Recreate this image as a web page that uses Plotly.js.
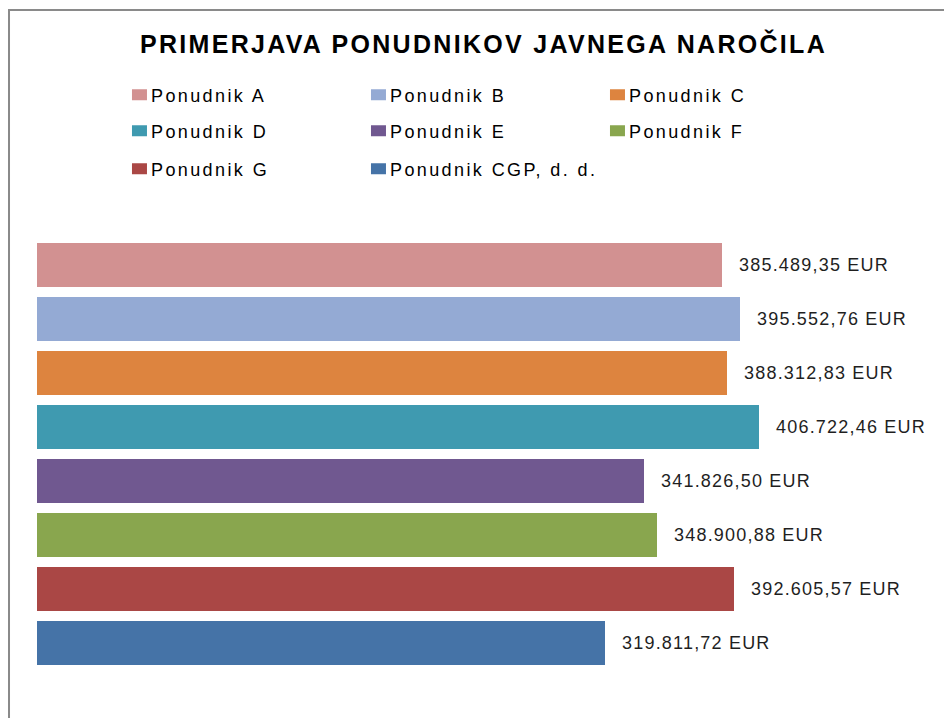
<!DOCTYPE html>
<html>
<head>
<meta charset="utf-8">
<script src="https://cdn.plot.ly/plotly-3.0.1.min.js"></script>
<style>
  html, body { margin: 0; padding: 0; background: #fff; }
  #chart { width: 944px; height: 718px; }
  text.legendtext, text.legend2text, text.legend3text { letter-spacing: 2.4px; }
  .annotation-text { letter-spacing: 1.2px; }
  .gtitle { letter-spacing: 2.3px; }
</style>
</head>
<body>
<div id="chart"></div>
<script>
// ---- data ----
const bidders = ["Ponudnik A", "Ponudnik B", "Ponudnik C", "Ponudnik D",
                 "Ponudnik E", "Ponudnik F", "Ponudnik G", "Ponudnik CGP, d. d."];
const offers = [385489.35, 395552.76, 388312.83, 406722.46,
                341826.50, 348900.88, 392605.57, 319811.72];
const valueLabels = ["385.489,35 EUR", "395.552,76 EUR", "388.312,83 EUR", "406.722,46 EUR",
                     "341.826,50 EUR", "348.900,88 EUR", "392.605,57 EUR", "319.811,72 EUR"];
const colors = ["#D29191", "#94AAD4", "#DD843F", "#3F9AB0",
                "#705890", "#89A64E", "#AA4745", "#4573A7"];
const legendOf = ["legend", "legend", "legend", "legend2",
                  "legend2", "legend2", "legend3", "legend3"];

// ---- traces: one bar per bidder ----
const traces = bidders.map((name, i) => {
  const t = {
    type: "bar",
    orientation: "h",
    name: name,
    x: [offers[i]],
    y: [name],
    marker: { color: colors[i], line: { width: 0 } },
    legend: legendOf[i],
    hoverinfo: "name+x"
  };
  if (i === bidders.length - 1) t.legendwidth = 280; // room for the long last entry
  return t;
});

const annotations = bidders.map((name, i) => ({
  x: offers[i],
  y: name,
  xref: "x",
  yref: "y",
  text: valueLabels[i],
  showarrow: false,
  xanchor: "left",
  yanchor: "middle",
  xshift: 15,
  font: { family: "Liberation Sans, Arial, sans-serif", size: 18, color: "#1f1f1f" }
}));

function mkLegend(y) {
  return {
    orientation: "h",
    x: 0.0822, xanchor: "left",
    y: y, yanchor: "middle",
    entrywidth: 194,
    entrywidthmode: "pixels",
    font: { family: "Liberation Sans, Arial, sans-serif", size: 18, color: "#000" },
    bgcolor: "rgba(0,0,0,0)",
    borderwidth: 0,
    traceorder: "normal",
    itemclick: false,
    itemdoubleclick: false
  };
}

const layout = {
  width: 944,
  height: 718,
  margin: { l: 37, r: 7, t: 238, b: 48 },
  paper_bgcolor: "#fff",
  plot_bgcolor: "#fff",
  barmode: "stack",
  bargap: 0.185,
  showlegend: true,
  title: {
    text: "PRIMERJAVA PONUDNIKOV JAVNEGA NAROČILA",
    x: 0.5122, xref: "container", xanchor: "center",
    y: 0.9387, yref: "container", yanchor: "middle",
    font: { family: "Liberation Sans, Arial, sans-serif", size: 25, color: "#000", weight: "bold" }
  },
  xaxis: {
    range: [0, 506700],
    showgrid: false, zeroline: false, showline: false,
    showticklabels: false, ticks: ""
  },
  yaxis: {
    type: "category",
    categoryorder: "array",
    categoryarray: bidders,
    autorange: "reversed",
    showgrid: false, zeroline: false, showline: false,
    showticklabels: false, ticks: ""
  },
  legend: mkLegend(1.331),
  legend2: mkLegend(1.2477),
  legend3: mkLegend(1.1597),
  annotations: annotations,
  shapes: [
    { type: "line", xref: "paper", yref: "paper",
      x0: -0.0311, x1: -0.0311, y0: 1.5278, y1: -0.12,
      line: { color: "#8a8a8a", width: 2 } },
    { type: "line", xref: "paper", yref: "paper",
      x0: -0.0322, x1: 1.1, y0: 1.5278, y1: 1.5278,
      line: { color: "#8a8a8a", width: 2 } }
  ]
};

function polish() {
  // wider, flatter legend keys sitting close to their text
  document.querySelectorAll(".legendpoints path").forEach(p => {
    p.setAttribute("d", "M16,5.5H1V-5.5H16Z");
  });
}

Plotly.newPlot("chart", traces, layout, { displayModeBar: false }).then(() => {
  polish();
  setTimeout(polish, 50);
});
</script>
</body>
</html>
